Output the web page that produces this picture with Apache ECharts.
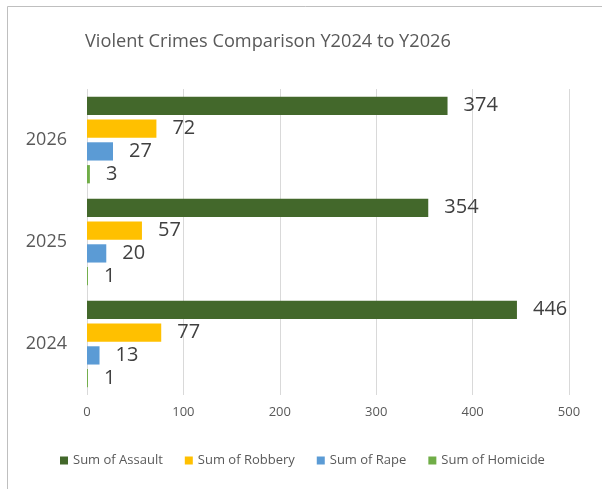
<!DOCTYPE html>
<html>
<head>
<meta charset="utf-8">
<script src="https://cdn.jsdelivr.net/npm/echarts@6/dist/echarts.min.js"></script>
<style>
  html, body { margin: 0; padding: 0; background: #fff; }
  #bar { width: 602px; height: 489px; }
</style>
</head>
<body>
<div id="bar"></div>
<script>
var years = ['2024', '2025', '2026'];
var assault = [446, 354, 374];
var robbery = [77, 57, 72];
var rape = [13, 20, 27];
var homicide = [1, 1, 3];
var xTicks = [0, 100, 200, 300, 400, 500];

var font = 'Open Sans';
var labelStyle = {
    show: true,
    position: 'right',
    distance: 16,
    fontSize: 20,
    fontFamily: font,
    color: '#404040'
};

var myChart = echarts.init(document.getElementById('bar'));
myChart.setOption({
    animation: false,
    textStyle: { fontFamily: font },
    title: {
        text: 'Violent Crimes Comparison Y2024 to Y2026',
        left: 85,
        top: 33,
        padding: 0,
        textStyle: { fontSize: 18.2, fontWeight: 'normal', color: '#595959', fontFamily: font }
    },
    graphic: [{
        type: 'rect',
        shape: { x: 7.5, y: 6.5, width: 700, height: 600 },
        style: { fill: 'none', stroke: '#bfbfbf', lineWidth: 1 }
    }],
    legend: {
        data: ['Sum of Assault', 'Sum of Robbery', 'Sum of Rape', 'Sum of Homicide'],
        left: 60,
        top: 454,
        padding: 0,
        itemWidth: 8,
        itemHeight: 8,
        itemGap: 22,
        icon: 'rect',
        textStyle: { fontSize: 13, color: '#595959', fontFamily: font }
    },
    grid: { left: 87, right: 33, top: 89, bottom: 94, containLabel: false },
    xAxis: {
        type: 'value',
        min: xTicks[0],
        max: xTicks[xTicks.length - 1],
        interval: 100,
        axisLine: { show: false },
        axisTick: { show: false },
        splitLine: { lineStyle: { color: '#d9d9d9', width: 1 } },
        axisLabel: { fontSize: 13, color: '#595959', margin: 11, fontFamily: font }
    },
    yAxis: {
        type: 'category',
        data: years,
        axisLine: { show: false },
        axisTick: { show: false },
        axisLabel: { fontSize: 18, color: '#595959', margin: 20, fontFamily: font }
    },
    series: [
        { name: 'Sum of Assault', type: 'bar', data: assault, itemStyle: { color: '#43682b' }, label: labelStyle, barGap: '25%', barCategoryGap: '15%' },
        { name: 'Sum of Robbery', type: 'bar', data: robbery, itemStyle: { color: '#ffc000' }, label: labelStyle },
        { name: 'Sum of Rape', type: 'bar', data: rape, itemStyle: { color: '#5b9bd5' }, label: labelStyle },
        { name: 'Sum of Homicide', type: 'bar', data: homicide, itemStyle: { color: '#70ad47' }, label: labelStyle }
    ]
});
</script>
</body>
</html>
